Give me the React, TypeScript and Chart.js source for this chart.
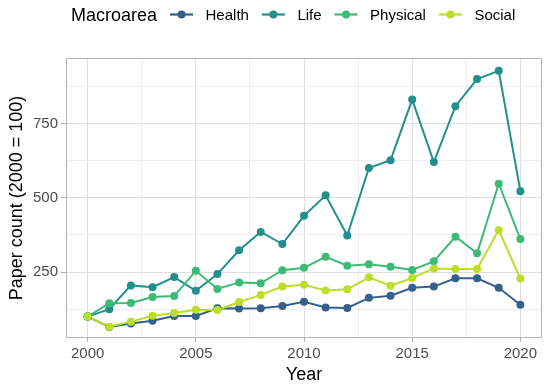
import React, { useEffect, useRef } from "react";
import { Chart, registerables } from "chart.js";

Chart.register(...registerables);

const years = [2000, 2001, 2002, 2003, 2004, 2005, 2006, 2007, 2008, 2009, 2010, 2011, 2012, 2013, 2014, 2015, 2016, 2017, 2018, 2019, 2020];
const health = [100, 65, 77, 86, 102, 102, 128, 127, 128, 136, 150, 131, 129, 163, 170, 197, 201, 229, 229, 197, 140];
const life = [100, 125, 205, 199, 233, 187, 243, 323, 385, 344, 439, 508, 373, 600, 626, 830, 620, 808, 899, 927, 522];
const physical = [100, 145, 146, 166, 169, 254, 193, 215, 212, 256, 264, 301, 271, 276, 268, 257, 286, 369, 313, 547, 361];
const social = [100, 66, 83, 103, 112, 123, 122, 149, 173, 201, 207, 188, 192, 232, 204, 230, 262, 260, 260, 391, 228];

const seriesNames = ["Health", "Life", "Physical", "Social"];
const seriesColors = ["#35608D", "#21908D", "#3BBB75", "#BBDF27"];
const seriesValues = [health, life, physical, social];

const legendTitle = "Macroarea";
const xTitle = "Year";
const yTitle = "Paper count (2000 = 100)";
const xTicks = [2000, 2002.5, 2005, 2007.5, 2010, 2012.5, 2015, 2017.5, 2020];
const yTicks = [125, 250, 375, 500, 625, 750, 875];

const FONT = "'Liberation Sans', Arial, Helvetica, sans-serif";

const panelBorder = {
  id: "panelBorder",
  afterDatasetsDraw(chart: any) {
    const { ctx, chartArea } = chart;
    ctx.save();
    ctx.strokeStyle = "#B3B3B3";
    ctx.lineWidth = 1;
    ctx.strokeRect(
      Math.round(chartArea.left) + 0.5,
      Math.round(chartArea.top) + 0.5,
      Math.round(chartArea.right - chartArea.left) - 1,
      Math.round(chartArea.bottom - chartArea.top) - 1
    );
    ctx.restore();
  },
};

const inlineLegend = {
  id: "inlineLegend",
  afterDraw(chart: any) {
    const ctx = chart.ctx;
    ctx.save();
    let x = 71;
    const keyY = 14.5;
    ctx.fillStyle = "#000000";
    ctx.textBaseline = "alphabetic";
    ctx.textAlign = "left";
    ctx.font = `18px ${FONT}`;
    ctx.fillText(legendTitle, x, 21);
    x += ctx.measureText(legendTitle).width + 13;
    ctx.font = `15px ${FONT}`;
    seriesNames.forEach((name, i) => {
      const c = seriesColors[i];
      ctx.strokeStyle = c;
      ctx.lineWidth = 2.2;
      ctx.beginPath();
      ctx.moveTo(x, keyY);
      ctx.lineTo(x + 23, keyY);
      ctx.stroke();
      ctx.fillStyle = c;
      ctx.beginPath();
      ctx.arc(x + 11.5, keyY, 4, 0, Math.PI * 2);
      ctx.fill();
      const lx = x + 23 + 12.5;
      ctx.fillStyle = "#000000";
      ctx.fillText(name, lx, 20);
      x = lx + ctx.measureText(name).width + 13;
    });
    ctx.restore();
  },
};

export default function App() {
  const canvasRef = useRef<HTMLCanvasElement | null>(null);

  useEffect(() => {
    document.body.style.margin = "0";
    const canvas = canvasRef.current;
    if (!canvas) return;

    const lineSets = seriesNames.map((name, i) => ({
      label: name,
      data: years.map((yr, j) => ({ x: yr, y: seriesValues[i][j] })),
      borderColor: seriesColors[i],
      backgroundColor: seriesColors[i],
      borderWidth: 2,
      pointRadius: 0,
      tension: 0,
      fill: false,
      order: 7 - i,
    }));
    const pointSets = seriesNames.map((name, i) => ({
      label: name + " points",
      data: years.map((yr, j) => ({ x: yr, y: seriesValues[i][j] })),
      borderColor: seriesColors[i],
      backgroundColor: seriesColors[i],
      pointBackgroundColor: seriesColors[i],
      pointBorderColor: seriesColors[i],
      pointBorderWidth: 0,
      pointRadius: 4,
      showLine: false,
      order: 3 - i,
    }));

    const chart = new Chart(canvas, {
      type: "line",
      data: { datasets: [...lineSets, ...pointSets] as any },
      plugins: [panelBorder, inlineLegend],
      options: {
        animation: false,
        responsive: false,
        maintainAspectRatio: false,
        devicePixelRatio: 1,
        layout: { padding: { top: 58, right: 8, bottom: 3, left: 0 } },
        plugins: {
          legend: { display: false },
          tooltip: { enabled: false },
          title: { display: false },
        },
        scales: {
          x: {
            type: "linear",
            min: 1999,
            max: 2021,
            afterBuildTicks: (scale: any) => {
              scale.ticks = xTicks.map((v) => ({ value: v }));
            },
            afterFit: (scale: any) => {
              scale.height = 48;
            },
            border: { display: false },
            grid: {
              color: (ctx: any) => (ctx.tick && ctx.tick.value % 5 === 0 ? "#DEDEDE" : "#EEEEEE"),
              lineWidth: 1,
              tickColor: (ctx: any) => (ctx.tick && ctx.tick.value % 5 === 0 ? "#B3B3B3" : "rgba(0,0,0,0)"),
              tickLength: 4,
              drawTicks: true,
            },
            ticks: {
              autoSkip: false,
              maxRotation: 0,
              padding: 3,
              color: "#4D4D4D",
              font: { family: FONT, size: 15 },
              callback: (v: any) => (Number(v) % 5 === 0 ? String(v) : ""),
            },
            title: {
              display: true,
              text: xTitle,
              color: "#000000",
              font: { family: FONT, size: 18 },
              padding: { top: 0, bottom: 0 },
            },
          },
          y: {
            type: "linear",
            min: 28,
            max: 970,
            afterBuildTicks: (scale: any) => {
              scale.ticks = yTicks.map((v) => ({ value: v }));
            },
            afterFit: (scale: any) => {
              scale.width = 66;
            },
            border: { display: false },
            grid: {
              color: (ctx: any) => (ctx.tick && ctx.tick.value % 250 === 0 ? "#DEDEDE" : "#EEEEEE"),
              lineWidth: 1,
              tickColor: (ctx: any) => (ctx.tick && ctx.tick.value % 250 === 0 ? "#B3B3B3" : "rgba(0,0,0,0)"),
              tickLength: 5,
              drawTicks: true,
            },
            ticks: {
              autoSkip: false,
              padding: 3,
              color: "#4D4D4D",
              font: { family: FONT, size: 15 },
              callback: (v: any) => (Number(v) % 250 === 0 ? String(v) : ""),
            },
            title: {
              display: true,
              text: yTitle,
              color: "#000000",
              font: { family: FONT, size: 18 },
              padding: { top: 6, bottom: 0 },
            },
          },
        },
      } as any,
    });

    return () => {
      chart.destroy();
    };
  }, []);

  return (
    <div style={{ width: 550, height: 389 }}>
      <canvas ref={canvasRef} width={550} height={389} style={{ display: "block" }} />
    </div>
  );
}
